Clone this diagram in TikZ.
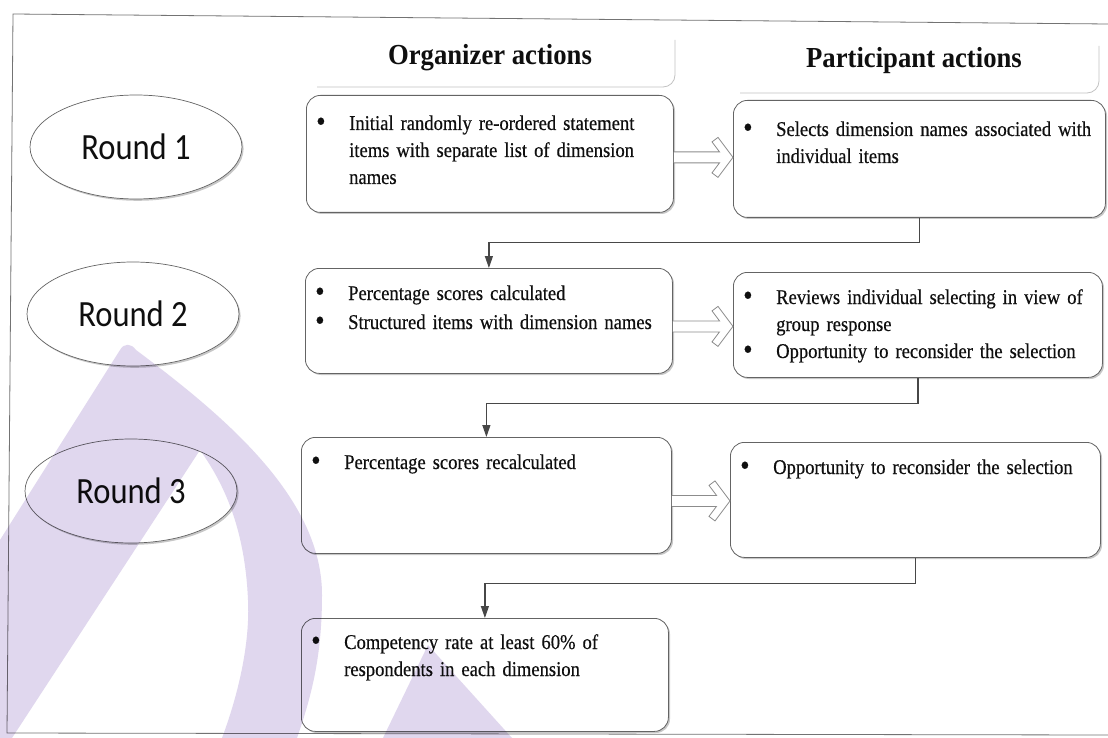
\documentclass[tikz,border=0pt]{standalone}
\usepackage{fontspec}
\setmainfont{Liberation Serif}[FakeStretch=0.92]
\newfontfamily\bodyfont{Liberation Serif}[FakeStretch=0.885, WordSpace=0.85, FakeBold=0.4]
\newfontfamily\roundfont{Carlito}[FakeStretch=0.88]
\usetikzlibrary{arrows.meta,shadows,calc,shapes.geometric}

\definecolor{wmark}{RGB}{224,215,238}
\definecolor{edge}{RGB}{100,100,100}
\definecolor{ink}{RGB}{15,15,15}

% one bulleted item with a hanging indent
\newcommand\bitem[1]{\par\raggedright\noindent\hangindent=32pt\hangafter=1%
  \makebox[32pt][l]{\hspace{-1pt}\raisebox{-1.3pt}{\scalebox{1.45}{\textbullet}}}#1\par}

% outlined double-stroke arrow between two boxes; #3 = downward offset of the shaft
\newcommand\hollowarrow[3]{%
  \filldraw[hollow] let \p1=(#1.east), \p2=(#2.west) in
    (\x1,\y1-#3pt+5.5pt) -- (\x2-13.5pt,\y1-#3pt+5.5pt) -- (\x2-21pt,\y1-#3pt+15.5pt)
    -- (\x2-15pt,\y1-#3pt+20pt) -- (\x2,\y1-#3pt) -- (\x2-15pt,\y1-#3pt-20pt)
    -- (\x2-21pt,\y1-#3pt-15.5pt) -- (\x2-13.5pt,\y1-#3pt-5.5pt) -- (\x1,\y1-#3pt-5.5pt);}

\tikzset{
  frame/.style={draw=black!55, line width=0.8pt},
  box/.style={draw=edge, line width=0.8pt, fill=white, rounded corners=14pt,
    inner sep=0pt, anchor=north west,
    drop shadow={shadow xshift=1.6pt, shadow yshift=-1.6pt, fill=black, opacity=0.22}},
  roundel/.style={ellipse, draw=edge, line width=0.7pt, fill=white, inner sep=0pt,
    minimum width=212pt, minimum height=104pt, text=ink,
    font=\roundfont\fontsize{37}{40}\selectfont,
    drop shadow={shadow xshift=1.6pt, shadow yshift=-1.8pt, fill=black, opacity=0.22}},
  txt/.style={anchor=base west, inner sep=0pt, text width=362pt, align=left, text=ink,
    font=\bodyfont\fontsize{21}{27}\selectfont},
  head/.style={anchor=base, inner sep=0pt, text=ink, font=\fontsize{29}{33}\selectfont\bfseries},
  headedge/.style={draw=black!24, line width=0.8pt, rounded corners=12pt},
  conn/.style={draw=black!72, line width=1.2pt, -{Triangle[length=12pt,width=8pt]}},
  hollow/.style={draw=black!45, line width=0.8pt, fill=white},
}

\begin{document}
\begin{tikzpicture}[x=1pt, y=-1pt]
\useasboundingbox (0,0) rectangle (1108,738);
\fill[white] (0,0) rectangle (1108,738);

% outer frame
\draw[frame] (1108,24) -- (13,14) -- (7,733) -- (1108,735);

% column headings
\draw[headedge] (317,87) -- (675,87) -- (675,40);
\draw[headedge] (740,93) -- (1099,93) -- (1099,46);
\node[head] (horg) at (490,65) {Organizer actions};
\node[head] (hpar) at (914,68) {Participant actions};

% rounds
\node[roundel] (r1) at (136,147) {Round 1};
\node[roundel] (r2) at (133,314) {Round 2};
\node[roundel] (r3) at (131,491) {Round 3};

% action boxes
\node[box, minimum width=367pt, minimum height=117pt] (o1) at (306,95) {};
\node[box, minimum width=372pt, minimum height=117pt] (p1) at (733,100) {};
\node[box, minimum width=367pt, minimum height=105pt] (o2) at (305,268) {};
\node[box, minimum width=369pt, minimum height=105pt] (p2) at (733,272) {};
\node[box, minimum width=370pt, minimum height=116pt] (o3) at (301,437) {};
\node[box, minimum width=370pt, minimum height=115pt] (p3) at (730,442) {};
\node[box, minimum width=367pt, minimum height=113pt] (o4) at (301,618) {};

% box contents
\node[txt] (to1) at ([xshift=11pt,yshift=-8pt]o1.north west)
  {\bitem{Initial randomly re-ordered statement\newline items with separate list of dimension\newline names}};
\node[txt] (tp1) at ([xshift=11pt,yshift=-9pt]p1.north west)
  {\bitem{Selects dimension names associated with\newline individual items}};
\node[txt] (to2) at ([xshift=11pt,yshift=-5pt]o2.north west)
  {\bitem{Percentage scores calculated}\vspace{2pt}\bitem{Structured items with dimension names}};
\node[txt] (tp2) at ([xshift=11pt,yshift=-5pt]p2.north west)
  {\bitem{Reviews individual selecting in view of\newline group response}\bitem{Opportunity to reconsider the selection}};
\node[txt] (to3) at ([xshift=11pt,yshift=-5pt]o3.north west)
  {\bitem{Percentage scores recalculated}};
\node[txt] (tp3) at ([xshift=11pt,yshift=-5pt]p3.north west)
  {\bitem{Opportunity to reconsider the selection}};
\node[txt] (to4) at ([xshift=11pt,yshift=-4pt]o4.north west)
  {\bitem{Competency rate at least 60\% of\newline respondents in each dimension}};

% organizer -> participant
\hollowarrow{o1}{p1}{3.5}
\hollowarrow{o2}{p2}{5.5}
\hollowarrow{o3}{p3}{5.5}

% participant -> next round
\draw[conn] (p1.south) -- ++(0,25) -| (o2.north);
\draw[conn] (p2.south) -- ++(0,26) -| (o3.north);
\draw[conn] (p3.south) -- ++(0,26) -| (o4.north);

% background emblem
\begin{scope}[blend mode=multiply]
  \fill[wmark] (120,350) .. controls (124,343) and (131,343) .. (136,350)
    .. controls (230,420) and (322,500) .. (322,595)
    .. controls (322,660) and (310,700) .. (297,738)
    -- (222,738)
    .. controls (240,690) and (250,640) .. (248,600)
    .. controls (245,530) and (225,485) .. (200,450)
    -- (12,738) -- (0,738) -- (0,540) -- cycle;
  \fill[wmark] (383,738) -- (428,645) -- (512,738) -- cycle;
\end{scope}
\end{tikzpicture}
\end{document}
